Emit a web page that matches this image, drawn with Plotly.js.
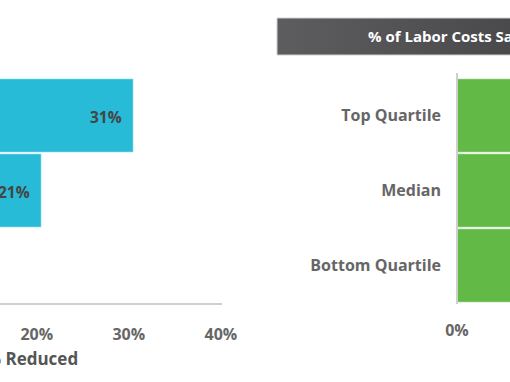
<!DOCTYPE html>
<html><head><meta charset="utf-8">
<script src="https://cdn.plot.ly/plotly-3.0.1.min.js"></script>
<style>html,body{margin:0;padding:0;background:#fff}#chart{width:510px;height:382px}</style>
</head><body><div id="chart"></div>
<script>
const categories = ['Top Quartile', 'Median', 'Bottom Quartile'];
const hoursReduced = [31, 21, 11];
const laborSaved = [12, 9, 7];
const leftTicks = [0, 10, 20, 30, 40];
const leftTickText = ['0%', '10%', '20%', '30%', '40%'];
const leftTitle = 'Overtime % Reduced';
const rightTitle = '% of Labor Costs Saved';

const W = 510, H = 382;
const py = p => 1 - p / H;
const px = p => p / W;
const FONT = 'Open Sans, Liberation Sans, sans-serif';

const cyan = '#27bbd7', green = '#63b946';

const traces = [
  {type: 'bar', orientation: 'h', y: categories, x: hoursReduced, xaxis: 'x', yaxis: 'y',
   marker: {color: cyan, line: {color: '#8fdcec', width: 0.6}}, hoverinfo: 'skip', cliponaxis: true},
  {type: 'bar', orientation: 'h', y: categories, x: laborSaved, xaxis: 'x2', yaxis: 'y2',
   marker: {color: green, line: {color: '#a8d99a', width: 0.6}}, hoverinfo: 'skip', cliponaxis: true}
];

const annotations = hoursReduced.map((v, i) => ({
  x: v, y: categories[i], xref: 'x', yref: 'y', xanchor: 'right', yanchor: 'middle',
  xshift: -9, yshift: -1, showarrow: false, text: v + '%',
  font: {family: FONT, size: 15.5, color: '#454545', weight: 700}
}));
annotations.push({
  x: px(80), y: py(358), xref: 'paper', yref: 'paper', xanchor: 'right', yanchor: 'middle',
  showarrow: false, text: leftTitle, font: {family: FONT, size: 17, color: '#555', weight: 700}
});
annotations.push({
  x: px(366), y: py(36), xref: 'paper', yref: 'paper', xanchor: 'left', yanchor: 'middle',
  showarrow: false, text: rightTitle, font: {family: FONT, size: 15, color: '#fff', weight: 700}
});

const grad = '<svg xmlns="http://www.w3.org/2000/svg" width="100" height="10" preserveAspectRatio="none">' +
  '<defs><linearGradient id="g" x1="0" x2="1" y1="0" y2="0"><stop offset="0" stop-color="#5d5d5f"/>' +
  '<stop offset="1" stop-color="#3c3c3e"/></linearGradient></defs><rect width="100" height="10" fill="url(#g)"/></svg>';

const tickFont = {family: FONT, size: 16, color: '#666', weight: 700};

const layout = {
  width: W, height: H,
  margin: {l: 0, r: 0, t: 0, b: 0},
  paper_bgcolor: '#fff', plot_bgcolor: 'rgba(0,0,0,0)',
  showlegend: false,
  bargap: 0.027,
  font: {family: FONT, color: '#666'},
  xaxis: {domain: [0, px(222)], range: [16.54, 40.67], anchor: 'y',
    tickvals: leftTicks, ticktext: leftTickText, ticklabelshift: 5, ticklabelstandoff: 16,
    showline: true, linecolor: '#cfcfcf', linewidth: 2, showgrid: false, zeroline: false, ticks: '',
    tickfont: tickFont, automargin: false, fixedrange: true},
  yaxis: {domain: [py(303), py(78)], anchor: 'x', autorange: 'reversed', showticklabels: false,
    showline: false, showgrid: false, zeroline: false, ticks: '', automargin: false},
  xaxis2: {domain: [px(457), 1], range: [0, 5.76], anchor: 'y2',
    tickvals: leftTicks, ticktext: leftTickText, ticklabelstandoff: 16,
    showline: false, showgrid: false, zeroline: false, ticks: '',
    tickfont: tickFont, automargin: false},
  yaxis2: {domain: [py(303), py(78)], anchor: 'x2', autorange: 'reversed',
    showline: false, showgrid: false, zeroline: false, ticks: '', ticklabelstandoff: 15,
    tickfont: tickFont, automargin: false},
  shapes: [
    {type: 'line', xref: 'paper', yref: 'paper', x0: px(457), x1: px(457), y0: py(73), y1: py(304),
     line: {color: '#cfcfcf', width: 2}},
    {type: 'rect', xref: 'paper', yref: 'paper', x0: px(277), x1: 1.3, y0: py(55), y1: py(18),
     line: {color: '#d0d0d0', width: 1}, fillcolor: 'rgba(0,0,0,0)', layer: 'above'}
  ],
  images: [{source: 'data:image/svg+xml;charset=utf-8,' + encodeURIComponent(grad),
    xref: 'paper', yref: 'paper', x: px(277), y: py(18), sizex: px(400), sizey: 37 / H,
    sizing: 'stretch', xanchor: 'left', yanchor: 'top', layer: 'below'}],
  annotations: annotations
};

Plotly.newPlot('chart', traces, layout, {staticPlot: true, displayModeBar: false});
</script></body></html>
